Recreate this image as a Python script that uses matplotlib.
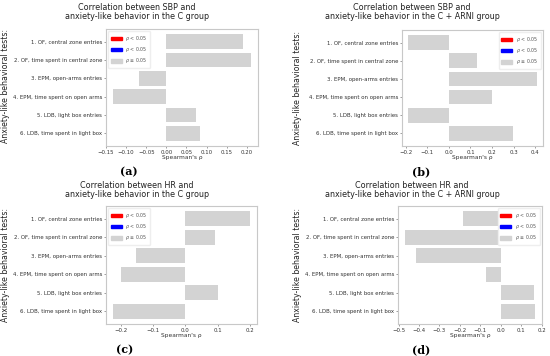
import matplotlib.pyplot as plt
import matplotlib.patches as mpatches

# behavioural test labels (top to bottom)
tests = ['1. OF, central zone entries',
         '2. OF, time spent in central zone',
         '3. EPM, open-arms entries',
         '4. EPM, time spent on open arms',
         '5. LDB, light box entries',
         '6. LDB, time spent in light box']

# Spearman's rho per panel
rho_sbp_c = [0.191, 0.211, -0.069, -0.133, 0.075, 0.083]
rho_sbp_arni = [-0.188, 0.131, 0.407, 0.202, -0.188, 0.296]
rho_hr_c = [0.200, 0.092, -0.152, -0.200, 0.102, -0.224]
rho_hr_arni = [-0.186, -0.471, -0.414, -0.073, 0.163, 0.170]

titles = ['Correlation between SBP and\nanxiety-like behavior in the C group',
          'Correlation between SBP and\nanxiety-like behavior in the C + ARNI group',
          'Correlation between HR and\nanxiety-like behavior in the C group',
          'Correlation between HR and\nanxiety-like behavior in the C + ARNI group']
panel_tags = ['(a)', '(b)', '(c)', '(d)']

fig = plt.figure(figsize=(5.5, 3.56), dpi=100)
W, H = 550.0, 356.0

# axes boxes in pixels: left, top, right, bottom
boxes = [(106, 29, 258, 146), (402, 30, 543, 146),
         (106, 206, 257, 324), (398, 206, 542, 324)]
title_pos = [(137, 12), (412, 12), (137, 190), (412, 190)]
tag_pos = [(129, 172), (421, 172), (125, 350), (421, 350)]
ylab_pos = [(6, 86), (297, 88), (6, 265), (297, 265)]
legend_loc = ['upper left', 'upper right', 'upper left', 'upper right']
series = [rho_sbp_c, rho_sbp_arni, rho_hr_c, rho_hr_arni]

spine_col = '#c8c8c8'
for i, vals in enumerate(series):
    l, t, r, b = boxes[i]
    ax = fig.add_axes([l / W, 1 - b / H, (r - l) / W, (b - t) / H])
    ax.barh(range(len(tests)), vals, height=0.8, color='lightgray')
    ax.set_yticks(range(len(tests)))
    ax.set_yticklabels(tests)
    ax.invert_yaxis()
    ax.tick_params(labelsize=3.9, length=1.5, width=0.4, pad=1.2,
                   color='#555555', labelcolor='#333333')
    for s in ax.spines.values():
        s.set_color(spine_col)
        s.set_linewidth(0.8)
    ax.set_xlabel("Spearman's ρ", fontsize=4.2, labelpad=0.5, color='#333333')
    handles = [mpatches.Patch(color='red', label=r'$\rho$ < 0.05'),
               mpatches.Patch(color='blue', label=r'$\rho$ < 0.05'),
               mpatches.Patch(color='lightgray', label=r'$\rho$ ≥ 0.05')]
    ax.legend(handles=handles, loc=legend_loc[i], fontsize=3.4,
              handlelength=2.2, handleheight=0.8, labelspacing=0.45,
              borderpad=0.6, framealpha=1, edgecolor='#eeeeee',
              labelcolor='#555555')

    tx, ty = title_pos[i]
    fig.text(tx / W, 1 - ty / H, titles[i], ha='center', va='center',
             fontsize=5.8, linespacing=1.1, color='#222222')
    px, py = tag_pos[i]
    fig.text(px / W, 1 - py / H, panel_tags[i], ha='center', va='center',
             fontsize=8, fontweight='bold', family='DejaVu Serif')
    yx, yy = ylab_pos[i]
    fig.text(yx / W, 1 - yy / H, 'Anxiety-like behavioral tests:',
             rotation=90, ha='center', va='center', fontsize=5.6,
             color='#222222')

fig.savefig('out.png', dpi=100)
